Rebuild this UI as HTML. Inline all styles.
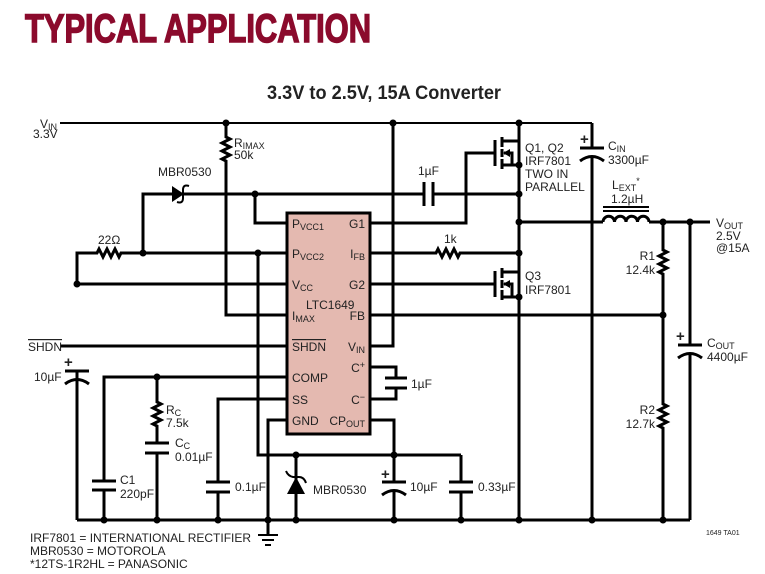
<!DOCTYPE html>
<html><head><meta charset="utf-8"><style>
html,body{margin:0;padding:0;background:#fff;}
svg{display:block;}
text{font-family:"Liberation Sans Narrow","Liberation Sans",sans-serif;font-size:12px;fill:#222;}
.s{font-size:9px;}
.p{font-size:15px;font-weight:bold;}
</style></head><body>
<svg width="765" height="574" viewBox="0 0 765 574" xmlns="http://www.w3.org/2000/svg">
<text x="25" y="42" textLength="346" lengthAdjust="spacingAndGlyphs" style="font-family:'Liberation Sans',sans-serif;font-weight:bold;font-size:40px;fill:#8b0a2c;stroke:#8b0a2c;stroke-width:1.5">TYPICAL APPLICATION</text>
<text x="267" y="99" textLength="234" lengthAdjust="spacingAndGlyphs" style="font-family:'Liberation Sans',sans-serif;font-weight:bold;font-size:19px;fill:#222">3.3V to 2.5V, 15A Converter</text>

<rect x="287" y="213" width="83" height="221" fill="#e4b9b0" stroke="#000" stroke-width="3"/>

<g fill="none" stroke="#000" stroke-width="3" stroke-linejoin="miter">
<path d="M60 123 H592" stroke-width="2"/>
<path d="M226 123 V137 l4 2 l-8 4 l8 4 l-8 4 l8 4 l-8 4 l4 2 V315 H287"/>
<path d="M393 123 V346 H370"/>
<path d="M519 123 V520"/>
<path d="M592 123 V148 M592 157 V520"/>
<path d="M580 148 H604" />
<path d="M580 161 Q592 152 604 161" />
<path d="M143 253 V194 H424 M433 194 H519"/>
<path d="M424 182 V206 M433 182 V206"/>
<path d="M255 194 V223 H287"/>
<path d="M370 223 H466 V153 H495"/>
<path d="M77 520 V371 M77 284 V253 H97 l2 -4 l4 8 l4 -8 l4 8 l4 -8 l4 8 l2 -4 H287"/>
<path d="M258 253 V455 H461"/>
<path d="M77 284 H287"/>
<path d="M60 346 H287"/>
<path d="M65 371 H89"/>
<path d="M65 384 Q77 375 89 384" />
<path d="M77 380 V520"/>
<path d="M104 520 V490 M104 481 V377 H287"/>
<path d="M92 481 H116 M92 490 H116"/>
<path d="M157 377 V402 l4 2 l-8 4 l8 4 l-8 4 l8 4 l-8 4 l4 2 V443 M157 453 V520"/>
<path d="M145 443 H169 M145 453 H169"/>
<path d="M287 399 H218 V482 M218 492 V520"/>
<path d="M206 482 H230 M206 492 H230"/>
<path d="M287 420 H268 V535"/>
<path d="M296 455 V520"/>
<path d="M370 420 H394 V482 M394 492 V520"/>
<path d="M382 482 H406"/>
<path d="M382 495 Q394 486 406 495"/>
<path d="M461 455 V482 M461 492 V520"/>
<path d="M449 482 H473 M449 492 H473"/>
<path d="M370 367 H396 V378 M396 388 V399 H370"/>
<path d="M385 378 H407 M385 388 H407"/>
<path d="M370 253 H436 l2 -4 l4 8 l4 -8 l4 8 l4 -8 l4 8 l2 -4 H519"/>
<path d="M370 284 H495"/>
<path d="M370 315 H663"/>
<path d="M519 222 H603 M649 222 H710"/>
<path d="M603 222 a5.75 5.75 0 0 1 11.5 0 a5.75 5.75 0 0 1 11.5 0 a5.75 5.75 0 0 1 11.5 0 a5.75 5.75 0 0 1 11.5 0"/>
<path d="M663 222 V250 l4 2 l-8 4 l8 4 l-8 4 l8 4 l-8 4 l4 2 V404 l4 2 l-8 4 l8 4 l-8 4 l8 4 l-8 4 l4 2 V520"/>
<path d="M690 222 V345 M690 355 V520"/>
<path d="M678 345 H702"/>
<path d="M678 358 Q690 349 702 358"/>
<path d="M77 520 H690"/>
<path d="M495 140 V166"/>
<path d="M502 137 V147 M502 149 V157 M502 159 V169"/>
<path d="M502 141 H519 M502 165 H519 M504 153 H512 V165"/>
<path d="M495 271 V297"/>
<path d="M502 268 V278 M502 280 V288 M502 290 V300"/>
<path d="M502 272 H519 M502 297 H519 M504 284 H512 V297"/>
</g>
<g fill="none" stroke="#000" stroke-width="2">
<path d="M603 207 H649 M603 211 H649"/>
<path d="M258 535 H278 M262 540 H274 M265 545 H271"/>
<path d="M189 186 Q183 184 183 190 V198 Q183 204 177 202"/>
<path d="M286 471 Q288 476 293 477 H299 Q304 477 306 483"/>
</g>
<g fill="#000">
<polygon points="172,186 172,202 184,194"/>
<polygon points="296,477 287,494 305,494"/>
<polygon points="503,153 510,149 510,157"/>
<polygon points="503,284 510,280 510,288"/>
<circle cx="226" cy="123" r="3.5"/><circle cx="393" cy="123" r="3.5"/><circle cx="519" cy="123" r="3.5"/>
<circle cx="255" cy="194" r="3.5"/><circle cx="519" cy="194" r="3.5"/><circle cx="519" cy="165" r="3.5"/>
<circle cx="143" cy="253" r="3.5"/><circle cx="258" cy="253" r="3.5"/><circle cx="77" cy="284" r="3.5"/>
<circle cx="519" cy="222" r="3.5"/><circle cx="519" cy="253" r="3.5"/><circle cx="519" cy="297" r="3.5"/>
<circle cx="663" cy="222" r="3.5"/><circle cx="690" cy="222" r="3.5"/><circle cx="663" cy="315" r="3.5"/>
<circle cx="157" cy="377" r="3.5"/><circle cx="296" cy="455" r="3.5"/><circle cx="394" cy="455" r="3.5"/>
<circle cx="104" cy="520" r="3.5"/><circle cx="157" cy="520" r="3.5"/><circle cx="218" cy="520" r="3.5"/>
<circle cx="268" cy="520" r="3.5"/><circle cx="296" cy="520" r="3.5"/><circle cx="394" cy="520" r="3.5"/>
<circle cx="461" cy="520" r="3.5"/><circle cx="519" cy="520" r="3.5"/><circle cx="592" cy="520" r="3.5"/>
<circle cx="663" cy="520" r="3.5"/>
</g>

<text x="292" y="228">P<tspan class="s" dy="2">VCC1</tspan></text>
<text x="292" y="258">P<tspan class="s" dy="2">VCC2</tspan></text>
<text x="292" y="289">V<tspan class="s" dy="2">CC</tspan></text>
<text x="292" y="320">I<tspan class="s" dy="2">MAX</tspan></text>
<text x="292" y="351" text-decoration="overline">SHDN</text>
<text x="292" y="382">COMP</text>
<text x="292" y="404">SS</text>
<text x="292" y="425">GND</text>
<text x="306" y="309">LTC1649</text>
<text x="365" y="228" text-anchor="end">G1</text>
<text x="365" y="258" text-anchor="end">I<tspan class="s" dy="2">FB</tspan></text>
<text x="365" y="289" text-anchor="end">G2</text>
<text x="365" y="320" text-anchor="end">FB</text>
<text x="365" y="351" text-anchor="end">V<tspan class="s" dy="2">IN</tspan></text>
<text x="365" y="372" text-anchor="end">C<tspan class="s" dy="-4">+</tspan></text>
<text x="365" y="404" text-anchor="end">C<tspan class="s" dy="-4">−</tspan></text>
<text x="365" y="425" text-anchor="end">CP<tspan class="s" dy="2">OUT</tspan></text>

<text x="40" y="128">V<tspan class="s" dy="2">IN</tspan></text>
<text x="33" y="138">3.3V</text>
<text x="234" y="147">R<tspan class="s" dy="2">IMAX</tspan></text>
<text x="234" y="159">50k</text>
<text x="158" y="176">MBR0530</text>
<text x="98" y="244">22Ω</text>
<text x="28" y="351" text-decoration="overline">SHDN</text>
<text class="p" x="64" y="367">+</text>
<text x="34" y="381">10µF</text>
<text x="120" y="484">C1</text>
<text x="120" y="498">220pF</text>
<text x="166" y="414">R<tspan class="s" dy="2">C</tspan></text>
<text x="166" y="427">7.5k</text>
<text x="175" y="447">C<tspan class="s" dy="2">C</tspan></text>
<text x="175" y="461">0.01µF</text>
<text x="235" y="491">0.1µF</text>
<text x="313" y="494">MBR0530</text>
<text class="p" x="381" y="479">+</text>
<text x="410" y="491">10µF</text>
<text x="478" y="491">0.33µF</text>
<text x="411" y="388">1µF</text>
<text x="418" y="175">1µF</text>
<text x="525" y="152">Q1, Q2</text>
<text x="525" y="165">IRF7801</text>
<text x="525" y="178">TWO IN</text>
<text x="525" y="191">PARALLEL</text>
<text class="p" x="580" y="144">+</text>
<text x="608" y="150">C<tspan class="s" dy="2">IN</tspan></text>
<text x="608" y="164">3300µF</text>
<text x="612" y="189">L<tspan class="s" dy="2">EXT</tspan><tspan class="s" dy="-7">*</tspan></text>
<text x="611" y="203">1.2µH</text>
<text x="716" y="227">V<tspan class="s" dy="2">OUT</tspan></text>
<text x="716" y="240">2.5V</text>
<text x="716" y="252">@15A</text>
<text x="444" y="243">1k</text>
<text x="525" y="280">Q3</text>
<text x="525" y="294">IRF7801</text>
<text x="655" y="260" text-anchor="end">R1</text>
<text x="655" y="274" text-anchor="end">12.4k</text>
<text x="655" y="414" text-anchor="end">R2</text>
<text x="655" y="428" text-anchor="end">12.7k</text>
<text class="p" x="676" y="341">+</text>
<text x="707" y="347">C<tspan class="s" dy="2">OUT</tspan></text>
<text x="707" y="361">4400µF</text>
<text x="706" y="535" style="font-size:7px">1649 TA01</text>
<text x="30" y="542">IRF7801 = INTERNATIONAL RECTIFIER</text>
<text x="30" y="555">MBR0530 = MOTOROLA</text>
<text x="30" y="568">*12TS-1R2HL = PANASONIC</text>
</svg>
</body></html>
